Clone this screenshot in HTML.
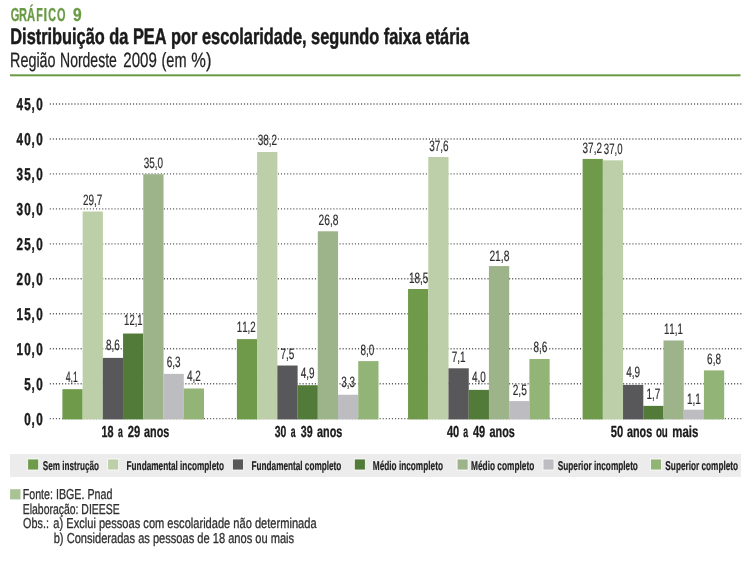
<!DOCTYPE html>
<html><head><meta charset="utf-8"><style>
html,body{margin:0;padding:0;background:#fff;}
svg{display:block;will-change:transform;}
text{font-family:"Liberation Sans",sans-serif;font-kerning:none;text-rendering:geometricPrecision;stroke-linejoin:round;}
</style></head><body>
<svg width="745" height="575" viewBox="0 0 745 575">
<rect width="745" height="575" fill="#fff"/>
<text transform="translate(10.75,21) scale(0.59,1)" x="0" y="0" font-size="18.75" font-weight="bold" fill="#6a9a44" stroke="#6a9a44" stroke-width="0.3">G</text>
<text transform="translate(19.06,21) scale(0.59,1)" x="0" y="0" font-size="18.75" font-weight="bold" fill="#6a9a44" stroke="#6a9a44" stroke-width="0.3">R</text>
<text transform="translate(27.02,21) scale(0.6,1)" x="0" y="0" font-size="18.75" font-weight="bold" fill="#6a9a44" stroke="#6a9a44" stroke-width="0.3">Á</text>
<text transform="translate(36.29,21) scale(0.57,1)" x="0" y="0" font-size="18.75" font-weight="bold" fill="#6a9a44" stroke="#6a9a44" stroke-width="0.3">F</text>
<text transform="translate(43.62,21) scale(0.7,1)" x="0" y="0" font-size="18.75" font-weight="bold" fill="#6a9a44" stroke="#6a9a44" stroke-width="0.3">I</text>
<text transform="translate(48.36,21) scale(0.57,1)" x="0" y="0" font-size="18.75" font-weight="bold" fill="#6a9a44" stroke="#6a9a44" stroke-width="0.3">C</text>
<text transform="translate(56.95,21) scale(0.58,1)" x="0" y="0" font-size="18.75" font-weight="bold" fill="#6a9a44" stroke="#6a9a44" stroke-width="0.3">O</text>
<text transform="translate(72.96,21) scale(0.83,1)" x="0" y="0" font-size="18.75" font-weight="bold" fill="#6a9a44" stroke="#6a9a44" stroke-width="0.3">9</text>
<text x="10.31" y="44.00" font-size="22.40" font-weight="bold" fill="#1a1a1a" textLength="458.89" lengthAdjust="spacingAndGlyphs" stroke="#1a1a1a" stroke-width="0.5">Distribuição da PEA por escolaridade, segundo faixa etária</text>
<text x="10.07" y="67.00" font-size="20.64" font-weight="normal" fill="#222" textLength="45.53" lengthAdjust="spacingAndGlyphs" stroke="#222" stroke-width="0.25">Região</text>
<text x="60.05" y="67.00" font-size="20.64" font-weight="normal" fill="#222" textLength="56.77" lengthAdjust="spacingAndGlyphs" stroke="#222" stroke-width="0.25">Nordeste</text>
<text x="123.24" y="67.00" font-size="20.64" font-weight="normal" fill="#222" textLength="33.57" lengthAdjust="spacingAndGlyphs" stroke="#222" stroke-width="0.25">2009</text>
<text x="161.50" y="67.00" font-size="20.64" font-weight="normal" fill="#222" textLength="25.06" lengthAdjust="spacingAndGlyphs" stroke="#222" stroke-width="0.25">(em</text>
<text x="191.31" y="67.00" font-size="20.64" font-weight="normal" fill="#222" textLength="20.11" lengthAdjust="spacingAndGlyphs" stroke="#222" stroke-width="0.25">%)</text>
<rect x="10.00" y="74.30" width="730.50" height="2.00" fill="#6a9a44"/>
<line x1="49.75" y1="104.00" x2="741.5" y2="104.00" stroke="#5c5c5c" stroke-width="1.4" stroke-dasharray="1.1 1.9826"/>
<line x1="49.75" y1="138.96" x2="741.5" y2="138.96" stroke="#5c5c5c" stroke-width="1.4" stroke-dasharray="1.1 1.9826"/>
<line x1="49.75" y1="173.92" x2="741.5" y2="173.92" stroke="#5c5c5c" stroke-width="1.4" stroke-dasharray="1.1 1.9826"/>
<line x1="49.75" y1="208.88" x2="741.5" y2="208.88" stroke="#5c5c5c" stroke-width="1.4" stroke-dasharray="1.1 1.9826"/>
<line x1="49.75" y1="243.84" x2="741.5" y2="243.84" stroke="#5c5c5c" stroke-width="1.4" stroke-dasharray="1.1 1.9826"/>
<line x1="49.75" y1="278.80" x2="741.5" y2="278.80" stroke="#5c5c5c" stroke-width="1.4" stroke-dasharray="1.1 1.9826"/>
<line x1="49.75" y1="313.76" x2="741.5" y2="313.76" stroke="#5c5c5c" stroke-width="1.4" stroke-dasharray="1.1 1.9826"/>
<line x1="49.75" y1="348.72" x2="741.5" y2="348.72" stroke="#5c5c5c" stroke-width="1.4" stroke-dasharray="1.1 1.9826"/>
<line x1="49.75" y1="383.68" x2="741.5" y2="383.68" stroke="#5c5c5c" stroke-width="1.4" stroke-dasharray="1.1 1.9826"/>
<line x1="49.75" y1="418.64" x2="741.5" y2="418.64" stroke="#5c5c5c" stroke-width="1.4" stroke-dasharray="1.1 1.9826"/>
<text transform="translate(16.50,110) scale(0.68,1)" x="0" y="0" font-size="17.19" font-weight="bold" fill="#1a1a1a" stroke="#1a1a1a" stroke-width="0.45">4</text>
<text transform="translate(24.33,110) scale(0.68,1)" x="0" y="0" font-size="17.19" font-weight="bold" fill="#1a1a1a" stroke="#1a1a1a" stroke-width="0.45">5</text>
<text transform="translate(31.60,110) scale(0.68,1)" x="0" y="0" font-size="17.19" font-weight="bold" fill="#1a1a1a" stroke="#1a1a1a" stroke-width="0.45">,</text>
<text transform="translate(36.15,110) scale(0.68,1)" x="0" y="0" font-size="17.19" font-weight="bold" fill="#1a1a1a" stroke="#1a1a1a" stroke-width="0.45">0</text>
<text transform="translate(16.50,145) scale(0.68,1)" x="0" y="0" font-size="17.19" font-weight="bold" fill="#1a1a1a" stroke="#1a1a1a" stroke-width="0.45">4</text>
<text transform="translate(24.33,145) scale(0.68,1)" x="0" y="0" font-size="17.19" font-weight="bold" fill="#1a1a1a" stroke="#1a1a1a" stroke-width="0.45">0</text>
<text transform="translate(31.60,145) scale(0.68,1)" x="0" y="0" font-size="17.19" font-weight="bold" fill="#1a1a1a" stroke="#1a1a1a" stroke-width="0.45">,</text>
<text transform="translate(36.15,145) scale(0.68,1)" x="0" y="0" font-size="17.19" font-weight="bold" fill="#1a1a1a" stroke="#1a1a1a" stroke-width="0.45">0</text>
<text transform="translate(16.50,180) scale(0.68,1)" x="0" y="0" font-size="17.19" font-weight="bold" fill="#1a1a1a" stroke="#1a1a1a" stroke-width="0.45">3</text>
<text transform="translate(24.33,180) scale(0.68,1)" x="0" y="0" font-size="17.19" font-weight="bold" fill="#1a1a1a" stroke="#1a1a1a" stroke-width="0.45">5</text>
<text transform="translate(31.60,180) scale(0.68,1)" x="0" y="0" font-size="17.19" font-weight="bold" fill="#1a1a1a" stroke="#1a1a1a" stroke-width="0.45">,</text>
<text transform="translate(36.15,180) scale(0.68,1)" x="0" y="0" font-size="17.19" font-weight="bold" fill="#1a1a1a" stroke="#1a1a1a" stroke-width="0.45">0</text>
<text transform="translate(16.50,215) scale(0.68,1)" x="0" y="0" font-size="17.19" font-weight="bold" fill="#1a1a1a" stroke="#1a1a1a" stroke-width="0.45">3</text>
<text transform="translate(24.33,215) scale(0.68,1)" x="0" y="0" font-size="17.19" font-weight="bold" fill="#1a1a1a" stroke="#1a1a1a" stroke-width="0.45">0</text>
<text transform="translate(31.60,215) scale(0.68,1)" x="0" y="0" font-size="17.19" font-weight="bold" fill="#1a1a1a" stroke="#1a1a1a" stroke-width="0.45">,</text>
<text transform="translate(36.15,215) scale(0.68,1)" x="0" y="0" font-size="17.19" font-weight="bold" fill="#1a1a1a" stroke="#1a1a1a" stroke-width="0.45">0</text>
<text transform="translate(16.50,250) scale(0.68,1)" x="0" y="0" font-size="17.19" font-weight="bold" fill="#1a1a1a" stroke="#1a1a1a" stroke-width="0.45">2</text>
<text transform="translate(24.33,250) scale(0.68,1)" x="0" y="0" font-size="17.19" font-weight="bold" fill="#1a1a1a" stroke="#1a1a1a" stroke-width="0.45">5</text>
<text transform="translate(31.60,250) scale(0.68,1)" x="0" y="0" font-size="17.19" font-weight="bold" fill="#1a1a1a" stroke="#1a1a1a" stroke-width="0.45">,</text>
<text transform="translate(36.15,250) scale(0.68,1)" x="0" y="0" font-size="17.19" font-weight="bold" fill="#1a1a1a" stroke="#1a1a1a" stroke-width="0.45">0</text>
<text transform="translate(16.50,285) scale(0.68,1)" x="0" y="0" font-size="17.19" font-weight="bold" fill="#1a1a1a" stroke="#1a1a1a" stroke-width="0.45">2</text>
<text transform="translate(24.33,285) scale(0.68,1)" x="0" y="0" font-size="17.19" font-weight="bold" fill="#1a1a1a" stroke="#1a1a1a" stroke-width="0.45">0</text>
<text transform="translate(31.60,285) scale(0.68,1)" x="0" y="0" font-size="17.19" font-weight="bold" fill="#1a1a1a" stroke="#1a1a1a" stroke-width="0.45">,</text>
<text transform="translate(36.15,285) scale(0.68,1)" x="0" y="0" font-size="17.19" font-weight="bold" fill="#1a1a1a" stroke="#1a1a1a" stroke-width="0.45">0</text>
<text transform="translate(16.50,320) scale(0.68,1)" x="0" y="0" font-size="17.19" font-weight="bold" fill="#1a1a1a" stroke="#1a1a1a" stroke-width="0.45">1</text>
<text transform="translate(24.33,320) scale(0.68,1)" x="0" y="0" font-size="17.19" font-weight="bold" fill="#1a1a1a" stroke="#1a1a1a" stroke-width="0.45">5</text>
<text transform="translate(31.60,320) scale(0.68,1)" x="0" y="0" font-size="17.19" font-weight="bold" fill="#1a1a1a" stroke="#1a1a1a" stroke-width="0.45">,</text>
<text transform="translate(36.15,320) scale(0.68,1)" x="0" y="0" font-size="17.19" font-weight="bold" fill="#1a1a1a" stroke="#1a1a1a" stroke-width="0.45">0</text>
<text transform="translate(16.50,355) scale(0.68,1)" x="0" y="0" font-size="17.19" font-weight="bold" fill="#1a1a1a" stroke="#1a1a1a" stroke-width="0.45">1</text>
<text transform="translate(24.33,355) scale(0.68,1)" x="0" y="0" font-size="17.19" font-weight="bold" fill="#1a1a1a" stroke="#1a1a1a" stroke-width="0.45">0</text>
<text transform="translate(31.60,355) scale(0.68,1)" x="0" y="0" font-size="17.19" font-weight="bold" fill="#1a1a1a" stroke="#1a1a1a" stroke-width="0.45">,</text>
<text transform="translate(36.15,355) scale(0.68,1)" x="0" y="0" font-size="17.19" font-weight="bold" fill="#1a1a1a" stroke="#1a1a1a" stroke-width="0.45">0</text>
<text transform="translate(24.33,390) scale(0.68,1)" x="0" y="0" font-size="17.19" font-weight="bold" fill="#1a1a1a" stroke="#1a1a1a" stroke-width="0.45">5</text>
<text transform="translate(31.60,390) scale(0.68,1)" x="0" y="0" font-size="17.19" font-weight="bold" fill="#1a1a1a" stroke="#1a1a1a" stroke-width="0.45">,</text>
<text transform="translate(36.15,390) scale(0.68,1)" x="0" y="0" font-size="17.19" font-weight="bold" fill="#1a1a1a" stroke="#1a1a1a" stroke-width="0.45">0</text>
<text transform="translate(24.33,425) scale(0.68,1)" x="0" y="0" font-size="17.19" font-weight="bold" fill="#1a1a1a" stroke="#1a1a1a" stroke-width="0.45">0</text>
<text transform="translate(31.60,425) scale(0.68,1)" x="0" y="0" font-size="17.19" font-weight="bold" fill="#1a1a1a" stroke="#1a1a1a" stroke-width="0.45">,</text>
<text transform="translate(36.15,425) scale(0.68,1)" x="0" y="0" font-size="17.19" font-weight="bold" fill="#1a1a1a" stroke="#1a1a1a" stroke-width="0.45">0</text>
<rect x="62.40" y="389.18" width="20.27" height="30.22" fill="#6e9a4a"/>
<rect x="82.62" y="211.50" width="20.27" height="207.90" fill="#bccfa8"/>
<rect x="102.84" y="357.88" width="20.27" height="61.52" fill="#58585a"/>
<rect x="123.06" y="333.53" width="20.27" height="85.87" fill="#527a38"/>
<rect x="143.28" y="174.24" width="20.27" height="245.16" fill="#9db48a"/>
<rect x="163.50" y="373.88" width="20.27" height="45.52" fill="#bdbdc1"/>
<rect x="183.72" y="388.48" width="20.27" height="30.92" fill="#93b477"/>
<rect x="236.90" y="339.10" width="20.27" height="80.30" fill="#6e9a4a"/>
<rect x="257.12" y="151.98" width="20.27" height="267.42" fill="#bccfa8"/>
<rect x="277.34" y="365.53" width="20.27" height="53.87" fill="#58585a"/>
<rect x="297.56" y="385.20" width="20.27" height="34.20" fill="#527a38"/>
<rect x="317.78" y="231.28" width="20.27" height="188.12" fill="#9db48a"/>
<rect x="338.00" y="394.75" width="20.27" height="24.65" fill="#bdbdc1"/>
<rect x="358.22" y="361.10" width="20.27" height="58.30" fill="#93b477"/>
<rect x="408.05" y="289.01" width="20.27" height="130.39" fill="#6e9a4a"/>
<rect x="428.27" y="157.00" width="20.27" height="262.40" fill="#bccfa8"/>
<rect x="448.49" y="368.31" width="20.27" height="51.09" fill="#58585a"/>
<rect x="468.71" y="389.88" width="20.27" height="29.52" fill="#527a38"/>
<rect x="488.93" y="266.06" width="20.27" height="153.34" fill="#9db48a"/>
<rect x="509.15" y="401.10" width="20.27" height="18.30" fill="#bdbdc1"/>
<rect x="529.37" y="359.00" width="20.27" height="60.40" fill="#93b477"/>
<rect x="582.60" y="158.94" width="20.27" height="260.46" fill="#6e9a4a"/>
<rect x="602.82" y="160.33" width="20.27" height="259.07" fill="#bccfa8"/>
<rect x="623.04" y="384.90" width="20.27" height="34.50" fill="#58585a"/>
<rect x="643.26" y="405.87" width="20.27" height="13.53" fill="#527a38"/>
<rect x="663.48" y="340.49" width="20.27" height="78.91" fill="#9db48a"/>
<rect x="683.70" y="409.70" width="20.27" height="9.70" fill="#bdbdc1"/>
<rect x="703.92" y="370.40" width="20.27" height="49.00" fill="#93b477"/>
<text x="65.70" y="382.00" font-size="15.04" font-weight="normal" fill="#2e2e2e" textLength="12.13" lengthAdjust="spacingAndGlyphs" stroke="#2e2e2e" stroke-width="0.2">4,1</text>
<text x="83.04" y="205.00" font-size="15.04" font-weight="normal" fill="#2e2e2e" textLength="19.38" lengthAdjust="spacingAndGlyphs" stroke="#2e2e2e" stroke-width="0.2">29,7</text>
<text x="106.03" y="350.00" font-size="15.04" font-weight="normal" fill="#2e2e2e" textLength="13.84" lengthAdjust="spacingAndGlyphs" stroke="#2e2e2e" stroke-width="0.2">8,6</text>
<text x="124.07" y="325.00" font-size="15.04" font-weight="normal" fill="#2e2e2e" textLength="18.59" lengthAdjust="spacingAndGlyphs" stroke="#2e2e2e" stroke-width="0.2">12,1</text>
<text x="143.70" y="168.00" font-size="15.04" font-weight="normal" fill="#2e2e2e" textLength="19.38" lengthAdjust="spacingAndGlyphs" stroke="#2e2e2e" stroke-width="0.2">35,0</text>
<text x="166.69" y="367.00" font-size="15.04" font-weight="normal" fill="#2e2e2e" textLength="13.84" lengthAdjust="spacingAndGlyphs" stroke="#2e2e2e" stroke-width="0.2">6,3</text>
<text x="186.91" y="381.00" font-size="15.04" font-weight="normal" fill="#2e2e2e" textLength="13.84" lengthAdjust="spacingAndGlyphs" stroke="#2e2e2e" stroke-width="0.2">4,2</text>
<text x="236.76" y="332.00" font-size="15.04" font-weight="normal" fill="#2e2e2e" textLength="18.93" lengthAdjust="spacingAndGlyphs" stroke="#2e2e2e" stroke-width="0.2">11,2</text>
<text x="257.72" y="145.00" font-size="15.04" font-weight="normal" fill="#2e2e2e" textLength="19.38" lengthAdjust="spacingAndGlyphs" stroke="#2e2e2e" stroke-width="0.2">38,2</text>
<text x="280.53" y="359.00" font-size="15.04" font-weight="normal" fill="#2e2e2e" textLength="13.84" lengthAdjust="spacingAndGlyphs" stroke="#2e2e2e" stroke-width="0.2">7,5</text>
<text x="300.75" y="378.00" font-size="15.04" font-weight="normal" fill="#2e2e2e" textLength="13.84" lengthAdjust="spacingAndGlyphs" stroke="#2e2e2e" stroke-width="0.2">4,9</text>
<text x="318.48" y="225.00" font-size="15.04" font-weight="normal" fill="#2e2e2e" textLength="19.96" lengthAdjust="spacingAndGlyphs" stroke="#2e2e2e" stroke-width="0.2">26,8</text>
<text x="341.19" y="387.00" font-size="15.04" font-weight="normal" fill="#2e2e2e" textLength="13.84" lengthAdjust="spacingAndGlyphs" stroke="#2e2e2e" stroke-width="0.2">3,3</text>
<text x="360.57" y="355.00" font-size="15.04" font-weight="normal" fill="#2e2e2e" textLength="13.82" lengthAdjust="spacingAndGlyphs" stroke="#2e2e2e" stroke-width="0.2">8,0</text>
<text x="409.04" y="283.00" font-size="15.04" font-weight="normal" fill="#2e2e2e" textLength="19.38" lengthAdjust="spacingAndGlyphs" stroke="#2e2e2e" stroke-width="0.2">18,5</text>
<text x="429.22" y="151.00" font-size="15.04" font-weight="normal" fill="#2e2e2e" textLength="19.42" lengthAdjust="spacingAndGlyphs" stroke="#2e2e2e" stroke-width="0.2">37,6</text>
<text x="451.68" y="362.00" font-size="15.04" font-weight="normal" fill="#2e2e2e" textLength="13.84" lengthAdjust="spacingAndGlyphs" stroke="#2e2e2e" stroke-width="0.2">7,1</text>
<text x="471.90" y="382.00" font-size="15.04" font-weight="normal" fill="#2e2e2e" textLength="13.84" lengthAdjust="spacingAndGlyphs" stroke="#2e2e2e" stroke-width="0.2">4,0</text>
<text x="489.38" y="261.00" font-size="15.04" font-weight="normal" fill="#2e2e2e" textLength="20.07" lengthAdjust="spacingAndGlyphs" stroke="#2e2e2e" stroke-width="0.2">21,8</text>
<text x="512.69" y="395.00" font-size="15.04" font-weight="normal" fill="#2e2e2e" textLength="14.14" lengthAdjust="spacingAndGlyphs" stroke="#2e2e2e" stroke-width="0.2">2,5</text>
<text x="533.42" y="352.00" font-size="15.04" font-weight="normal" fill="#2e2e2e" textLength="13.87" lengthAdjust="spacingAndGlyphs" stroke="#2e2e2e" stroke-width="0.2">8,6</text>
<text x="582.62" y="153.00" font-size="15.04" font-weight="normal" fill="#2e2e2e" textLength="19.28" lengthAdjust="spacingAndGlyphs" stroke="#2e2e2e" stroke-width="0.2">37,2</text>
<text x="603.84" y="154.00" font-size="15.04" font-weight="normal" fill="#2e2e2e" textLength="18.64" lengthAdjust="spacingAndGlyphs" stroke="#2e2e2e" stroke-width="0.2">37,0</text>
<text x="626.23" y="377.00" font-size="15.04" font-weight="normal" fill="#2e2e2e" textLength="13.84" lengthAdjust="spacingAndGlyphs" stroke="#2e2e2e" stroke-width="0.2">4,9</text>
<text x="646.45" y="399.00" font-size="15.04" font-weight="normal" fill="#2e2e2e" textLength="13.84" lengthAdjust="spacingAndGlyphs" stroke="#2e2e2e" stroke-width="0.2">1,7</text>
<text x="663.96" y="334.00" font-size="15.04" font-weight="normal" fill="#2e2e2e" textLength="18.91" lengthAdjust="spacingAndGlyphs" stroke="#2e2e2e" stroke-width="0.2">11,1</text>
<text x="686.89" y="404.00" font-size="15.04" font-weight="normal" fill="#2e2e2e" textLength="13.84" lengthAdjust="spacingAndGlyphs" stroke="#2e2e2e" stroke-width="0.2">1,1</text>
<text x="707.11" y="364.00" font-size="15.04" font-weight="normal" fill="#2e2e2e" textLength="13.84" lengthAdjust="spacingAndGlyphs" stroke="#2e2e2e" stroke-width="0.2">6,8</text>
<text x="101.62" y="437.00" font-size="15.99" font-weight="bold" fill="#1a1a1a" textLength="12.01" lengthAdjust="spacingAndGlyphs" stroke="#1a1a1a" stroke-width="0.3">18</text>
<text x="117.95" y="437.00" font-size="15.99" font-weight="bold" fill="#1a1a1a" textLength="4.80" lengthAdjust="spacingAndGlyphs" stroke="#1a1a1a" stroke-width="0.3">a</text>
<text x="127.71" y="437.00" font-size="15.99" font-weight="bold" fill="#1a1a1a" textLength="12.51" lengthAdjust="spacingAndGlyphs" stroke="#1a1a1a" stroke-width="0.3">29</text>
<text x="144.08" y="437.00" font-size="15.99" font-weight="bold" fill="#1a1a1a" textLength="25.26" lengthAdjust="spacingAndGlyphs" stroke="#1a1a1a" stroke-width="0.3">anos</text>
<text x="274.66" y="437.00" font-size="15.99" font-weight="bold" fill="#1a1a1a" textLength="11.57" lengthAdjust="spacingAndGlyphs" stroke="#1a1a1a" stroke-width="0.3">30</text>
<text x="290.65" y="437.00" font-size="15.99" font-weight="bold" fill="#1a1a1a" textLength="4.80" lengthAdjust="spacingAndGlyphs" stroke="#1a1a1a" stroke-width="0.3">a</text>
<text x="300.86" y="437.00" font-size="15.99" font-weight="bold" fill="#1a1a1a" textLength="11.84" lengthAdjust="spacingAndGlyphs" stroke="#1a1a1a" stroke-width="0.3">39</text>
<text x="317.08" y="437.00" font-size="15.99" font-weight="bold" fill="#1a1a1a" textLength="25.26" lengthAdjust="spacingAndGlyphs" stroke="#1a1a1a" stroke-width="0.3">anos</text>
<text x="446.93" y="437.00" font-size="15.99" font-weight="bold" fill="#1a1a1a" textLength="12.32" lengthAdjust="spacingAndGlyphs" stroke="#1a1a1a" stroke-width="0.3">40</text>
<text x="463.15" y="437.00" font-size="15.99" font-weight="bold" fill="#1a1a1a" textLength="4.80" lengthAdjust="spacingAndGlyphs" stroke="#1a1a1a" stroke-width="0.3">a</text>
<text x="472.93" y="437.00" font-size="15.99" font-weight="bold" fill="#1a1a1a" textLength="12.28" lengthAdjust="spacingAndGlyphs" stroke="#1a1a1a" stroke-width="0.3">49</text>
<text x="489.58" y="437.00" font-size="15.99" font-weight="bold" fill="#1a1a1a" textLength="25.26" lengthAdjust="spacingAndGlyphs" stroke="#1a1a1a" stroke-width="0.3">anos</text>
<text x="610.86" y="437.00" font-size="15.99" font-weight="bold" fill="#1a1a1a" textLength="12.40" lengthAdjust="spacingAndGlyphs" stroke="#1a1a1a" stroke-width="0.3">50</text>
<text x="626.98" y="437.00" font-size="15.99" font-weight="bold" fill="#1a1a1a" textLength="25.16" lengthAdjust="spacingAndGlyphs" stroke="#1a1a1a" stroke-width="0.3">anos</text>
<text x="655.92" y="437.00" font-size="15.99" font-weight="bold" fill="#1a1a1a" textLength="11.92" lengthAdjust="spacingAndGlyphs" stroke="#1a1a1a" stroke-width="0.3">ou</text>
<text x="672.25" y="437.00" font-size="15.99" font-weight="bold" fill="#1a1a1a" textLength="26.02" lengthAdjust="spacingAndGlyphs" stroke="#1a1a1a" stroke-width="0.3">mais</text>
<rect x="10.00" y="454.00" width="731.00" height="23.00" fill="#ececec"/>
<rect x="27.70" y="459.00" width="11.00" height="11.00" fill="#6e9a4a" stroke="#fff" stroke-width="0.8"/>
<text x="42.87" y="470.00" font-size="12.79" font-weight="bold" fill="#222" textLength="56.05" lengthAdjust="spacingAndGlyphs" stroke="#222" stroke-width="0.2">Sem instrução</text>
<rect x="107.70" y="459.00" width="11.00" height="11.00" fill="#bccfa8" stroke="#fff" stroke-width="0.8"/>
<text x="126.55" y="470.00" font-size="12.79" font-weight="bold" fill="#222" textLength="97.47" lengthAdjust="spacingAndGlyphs" stroke="#222" stroke-width="0.2">Fundamental incompleto</text>
<rect x="232.40" y="459.00" width="11.00" height="11.00" fill="#58585a" stroke="#fff" stroke-width="0.8"/>
<text x="251.55" y="470.00" font-size="12.79" font-weight="bold" fill="#222" textLength="89.77" lengthAdjust="spacingAndGlyphs" stroke="#222" stroke-width="0.2">Fundamental completo</text>
<rect x="354.30" y="459.00" width="11.00" height="11.00" fill="#527a38" stroke="#fff" stroke-width="0.8"/>
<text x="372.75" y="470.00" font-size="12.79" font-weight="bold" fill="#222" textLength="70.17" lengthAdjust="spacingAndGlyphs" stroke="#222" stroke-width="0.2">Médio incompleto</text>
<rect x="457.10" y="459.00" width="11.00" height="11.00" fill="#9db48a" stroke="#fff" stroke-width="0.8"/>
<text x="471.04" y="470.00" font-size="12.79" font-weight="bold" fill="#222" textLength="63.28" lengthAdjust="spacingAndGlyphs" stroke="#222" stroke-width="0.2">Médio completo</text>
<rect x="543.00" y="459.00" width="11.00" height="11.00" fill="#bdbdc1" stroke="#fff" stroke-width="0.8"/>
<text x="557.76" y="470.00" font-size="12.79" font-weight="bold" fill="#222" textLength="80.16" lengthAdjust="spacingAndGlyphs" stroke="#222" stroke-width="0.2">Superior incompleto</text>
<rect x="650.60" y="459.00" width="11.00" height="11.00" fill="#93b477" stroke="#fff" stroke-width="0.8"/>
<text x="665.36" y="470.00" font-size="12.79" font-weight="bold" fill="#222" textLength="72.76" lengthAdjust="spacingAndGlyphs" stroke="#222" stroke-width="0.2">Superior completo</text>
<rect x="10.10" y="489.20" width="10.40" height="10.20" fill="#a9c394"/>
<text x="22.72" y="499.00" font-size="14.39" font-weight="normal" fill="#2e2e2e" textLength="89.66" lengthAdjust="spacingAndGlyphs" stroke="#2e2e2e" stroke-width="0.3">Fonte: IBGE. Pnad</text>
<text x="22.74" y="514.00" font-size="14.39" font-weight="normal" fill="#2e2e2e" textLength="96.90" lengthAdjust="spacingAndGlyphs" stroke="#2e2e2e" stroke-width="0.3">Elaboração: DIEESE</text>
<text x="23.09" y="528.00" font-size="14.39" font-weight="normal" fill="#2e2e2e" textLength="25.80" lengthAdjust="spacingAndGlyphs" stroke="#2e2e2e" stroke-width="0.3">Obs.:</text>
<text x="53.33" y="528.00" font-size="14.39" font-weight="normal" fill="#2e2e2e" textLength="263.27" lengthAdjust="spacingAndGlyphs" stroke="#2e2e2e" stroke-width="0.3">a) Exclui pessoas com escolaridade não determinada</text>
<text x="53.69" y="543.00" font-size="14.39" font-weight="normal" fill="#2e2e2e" textLength="240.42" lengthAdjust="spacingAndGlyphs" stroke="#2e2e2e" stroke-width="0.3">b) Consideradas as pessoas de 18 anos ou mais</text>
</svg>
</body></html>
